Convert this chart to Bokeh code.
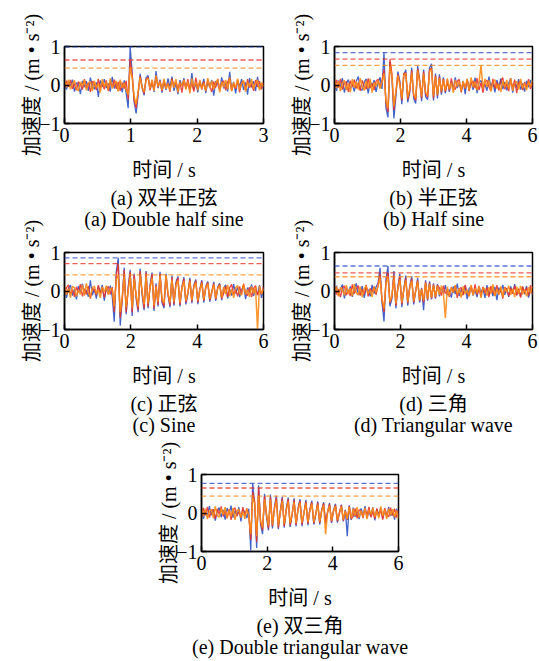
import numpy as np
from bokeh.plotting import figure
from bokeh.layouts import column, row
from bokeh.models import Range1d, FixedTicker, Span, Title, Spacer
from bokeh.embed import file_html
from bokeh.resources import INLINE

SERIF = "'Liberation Serif', 'Noto Sans CJK SC'"
BLUE = "#2f52c6"
RED = "#e8312b"
ORANGE = "#ff8b14"

# Record lengths (s) and x tick positions of the five excitation cases
durations = [3, 6, 6, 6, 6]
x_ticks = [[0, 1, 2, 3], [0, 2, 4, 6], [0, 2, 4, 6], [0, 2, 4, 6], [0, 2, 4, 6]]
y_ticks = [-1, 0, 1]

caption_cn = ["(a) 双半正弦", "(b) 半正弦", "(c) 正弦", "(d) 三角", "(e) 双三角"]
caption_en = ["(a) Double half sine", "(b) Half sine", "(c) Sine",
              "(d) Triangular wave", "(e) Double triangular wave"]

# Acceleration samples, in units of 0.01 m/s^2, evenly spaced over each record
a_blue = [5, -12, 9, -4, 14, -17, 6, 3, -24, 11,
          -6, 10, -15, 19, -2, -11, 7, -31, 12, -5,
          15, -8, 4, -17, 21, -9, 6, -13, 10, -19,
          12, -22, -60, 99, 32, -44, -74, -26, 29, -4,
          -27, 19, 25, -11, 12, -18, 36, -8, 14, -20,
          9, -13, 17, -6, 22, -15, 5, -24, 13, -3,
          18, -10, 7, -16, 31, -12, 4, -19, 11, -7,
          16, -21, 8, -5, 13, -28, 10, 2, -14, 20,
          -9, 6, -17, 34, -11, 8, -22, 12, -4, 15,
          -13, 7, -25, 18, -6, 10, -16, 21, -8, 4, -10]
a_red = [-8, 11, -5, 13, -10, 4, -14, 9, 2, -12,
         15, -7, 6, -18, 10, 3, -13, 16, -9, 5,
         -11, 12, -16, 7, -4, 14, -10, 8, -15, 6,
         -9, 11, -38, 65, 25, -40, -60, -20, 24, -8,
         -22, 15, 20, -14, 9, -12, 22, -6, 11, -16,
         13, -9, 6, -18, 17, -4, 10, -13, 8, -20,
         12, -6, 15, -11, 4, -17, 19, -8, 7, -12,
         10, -15, 14, -3, -18, 9, -7, 16, -12, 5,
         11, -14, 8, 18, -16, 3, -10, 14, -19, 6,
         9, -12, 15, -7, 4, -15, 13, -5, 10, -11, 7]
a_orange = [10, -6, 14, -11, 3, 12, -9, -15, 8, -3,
            13, -14, 5, 9, -16, 11, -7, 4, -20, 15,
            -5, 8, -12, 17, -9, 2, 11, -17, 14, -8,
            6, -14, -25, 44, 20, -30, -50, -18, 20, -6,
            -18, 12, 18, -9, 14, -15, 25, -4, 8, -13,
            16, -10, 4, -14, 12, -7, 15, -19, 6, -2,
            14, -12, 9, -22, 17, -5, 8, -14, 13, -9,
            5, -16, 18, -8, 11, -12, 6, 14, -19, 9,
            -6, 13, -11, 20, -15, 7, -8, 16, -12, 3,
            12, -17, 8, -5, 15, -10, 4, 13, -14, 6, -4]

b_blue = [8, -15, 12, -6, 18, -20, 5, 14, -11, 3,
          -17, 10, 22, -9, -14, 7, 16, -22, 9, -4,
          13, -18, 6, 20, -10, 84, -60, -84, 60, 20,
          -87, -30, 35, 10, -50, 25, 40, -45, -20, 45,
          -35, -48, 50, 15, -42, 40, -30, -38, 45, 55,
          -40, 30, -35, 28, -25, 20, -22, 14, -18, 9,
          -12, 20, -8, 5, -16, 11, -24, 16, -7, 10,
          -13, 19, -21, 6, 12, -9, 3, -15, 22, -6,
          9, -19, 13, -4, 17, -11, 8, -14, 5, 18,
          -20, 10, -7, 15, -12, 4, -17, 11, -6, 13, -9]
b_red = [-10, 13, -7, 16, -12, 5, 9, -18, 11, -4,
         14, -9, 6, -15, 12, -3, -11, 17, -8, 4,
         -13, 10, 15, -6, 12, 40, -45, -70, 67, 30,
         -65, -20, 28, 5, -40, 30, 32, -38, -15, 38,
         -28, -40, 42, 10, -35, 35, -22, -32, 40, 45,
         -35, 25, -28, 22, -20, 16, -18, 10, -14, 17,
         -6, -12, 9, 15, -19, 7, -10, 13, -16, 4,
         11, -8, 18, -13, 6, -20, 9, 12, -5, -15,
         16, -9, 7, -14, 10, 19, -11, 3, -16, 12,
         -8, 14, -21, 6, 10, -13, 8, -7, 15, -10, 4]
b_orange = [14, -8, 10, -16, 6, 12, -13, 4, -19, 15,
            -7, 9, -12, 18, -5, -14, 11, -9, 16, -20,
            7, -3, 12, -10, 8, 30, -40, -60, 48, 25,
            -55, -15, 25, 0, -35, 25, 30, -32, -10, 32,
            -25, -35, 38, 8, -30, 30, -18, -28, 35, 42,
            -30, 22, -25, 18, -16, 14, -15, 17, -11, 6,
            -20, 13, -4, 9, -15, 10, -8, 15, -12, 20,
            -6, 9, -14, 8, 51, -10, 16, -5, 12, -17,
            7, 14, -9, 3, -18, 11, -6, 13, -10, 18,
            -15, 5, 9, -12, 16, -8, 4, -14, 10, -5, 12]

c_blue = [10, -18, 7, 15, -12, 4, -22, 13, -6, 19,
          -9, 3, -15, 28, -11, 6, -20, 12, -4, 16,
          -25, 9, -7, 14, -15, -80, 50, 86, -90, -20,
          60, -60, 10, 55, -65, 45, -20, -55, 58, -10,
          -50, 52, -45, 15, 48, -52, 20, -40, 50, -30,
          -45, 45, -10, -42, 40, -38, 22, 38, -40, 10,
          36, -35, -8, 34, -32, 15, 30, -34, 5, 28,
          -30, 12, 25, -28, -5, 24, -26, 10, 20, -24,
          8, 16, -19, 5, -12, 18, -7, 11, -16, 3,
          14, -21, 9, -5, 17, -13, 6, -10, 15, -18, 7]
c_red = [-12, 9, 16, -8, 4, -15, 11, -3, 18, -14,
         6, -9, 13, -20, 7, 2, -11, 15, -6, 10,
         -17, 4, 12, -9, 10, -55, 40, 71, -70, -25,
         55, -55, 5, 50, -55, 42, -15, -50, 52, -5,
         -45, 48, -40, 10, 44, -46, 15, -36, 45, -25,
         -40, 40, -8, -38, 36, -34, 18, 34, -36, 8,
         32, -30, -5, 30, -28, 12, 27, -30, 3, 25,
         -26, 10, 22, -24, -3, 20, -22, 8, 18, -20,
         -6, 13, -15, 9, 17, -10, 4, -14, 12, -8,
         19, -5, -12, 10, -16, 7, 14, -11, 3, -9, 12]
c_orange = [15, -10, 6, -17, 12, 8, -14, 3, -9, 16,
            -12, 20, -5, -16, 9, 13, -7, 4, -18, 11,
            -3, 14, -10, 7, 5, -40, 30, 42, -55, -15,
            38, -42, 0, 38, -45, 32, -10, -40, 40, 0,
            -35, 38, -32, 8, 35, -38, 12, -28, 40, -20,
            -32, 42, -5, -30, 30, -28, 14, 28, -30, 6,
            26, -25, -3, 25, -24, 10, 22, -25, 2, 20,
            -22, 8, 19, -20, -2, 17, -19, 6, 15, -17,
            11, -8, 16, -13, 5, -18, 9, 14, -6, -11,
            17, -9, 4, -15, 12, -7, 10, -100, 13, -8, 6]

d_blue = [-8, 14, -12, 6, 17, -19, 9, -4, 12, -15,
          5, 20, -10, -6, 13, -18, 8, 3, -14, 16,
          -7, 11, 20, 60, -30, -79, 30, 65, -40, -20,
          52, -45, 10, 45, -42, 5, 40, -38, 12, 38,
          -35, 0, 34, -30, 8, -50, 28, -25, 25, -22,
          20, -20, 18, -14, 9, -6, 15, -11, 4, -17,
          12, -8, 19, -13, 5, -9, 14, -21, 7, 10,
          -12, 3, -16, 13, -5, 8, -18, 15, -9, 6,
          -13, 11, -24, 9, -4, 16, -10, 7, -15, 12,
          -6, 18, -11, 4, -14, 10, -8, 13, -17, 6, -9]
d_red = [11, -9, 5, -16, 8, 13, -11, 2, -13, 17,
         -7, 6, 14, -12, 4, -9, 16, -14, 7, -3,
         12, -10, 15, 45, -25, -55, 25, 47, -32, -15,
         42, -38, 8, 38, -35, 4, 34, -32, 10, 32,
         -30, 0, 28, -26, 6, -30, 24, -22, 21, -19,
         17, -17, 15, 8, -12, 14, -7, 3, -15, 10,
         -5, 13, -18, 6, 9, -11, 16, -4, -13, 12,
         -8, 17, -10, 5, -14, 11, -6, 9, -16, 13,
         -3, -12, 15, -9, 7, -20, 10, 4, -13, 8,
         -7, 14, -11, 6, -17, 12, -5, 9, -12, 15, -8]
d_orange = [-6, 12, -14, 9, 4, -11, 15, -8, 7, -13,
            18, -5, -10, 11, -16, 6, 13, -7, 3, -15,
            10, -4, 12, 35, -20, -45, 20, 37, -28, -12,
            33, -32, 6, 30, -30, 3, 28, -28, 8, 27,
            -26, 0, 25, -23, 5, -25, 21, -20, 18, -17,
            15, -15, 13, -10, 14, -6, -70, 11, -13, 8,
            -4, 15, -9, 6, -17, 12, -8, 3, -14, 16,
            -11, 7, -5, 13, -18, 9, 4, -12, 10, -7,
            17, -13, 5, -9, 12, -15, 8, -3, 14, -10,
            6, -16, 11, -7, 13, -9, 4, -14, 10, -6, 12]

e_blue = [12, -15, 7, -9, 18, -6, 10, -20, 4, 14,
          -11, 8, -17, 13, -3, 19, -12, 6, -8, 15,
          -22, 9, 2, -13, 11, -97, 77, 20, -91, 72,
          -30, -55, 50, -10, -45, 48, -40, 15, 45, -42,
          5, 42, -38, 10, 40, -36, -5, 38, -35, 12,
          36, -34, 0, 34, -32, 10, 32, -30, -4, 30,
          -30, 8, 28, -28, 2, 26, -26, 6, 24, -25,
          0, 22, -22, 8, -60, 20, -18, 14, -10, 6,
          -16, 12, -7, 18, -13, 4, -9, 15, -19, 10,
          -5, 13, -14, 7, -11, 16, -8, 3, -17, 11, -6]
e_red = [-10, 13, -6, 16, -12, 5, 9, -15, 11, -4,
         17, -9, 6, -13, 10, -18, 7, 14, -8, 3,
         -11, 15, -7, 12, -5, -70, 55, 30, -75, 65,
         -25, -45, 44, -5, -40, 42, -35, 12, 40, -38,
         3, 38, -34, 8, 36, -32, -3, 34, -31, 10,
         32, -30, 0, 30, -28, 8, 28, -27, -3, 27,
         -26, 6, 25, -25, 2, 23, -23, 5, 21, -22,
         0, 20, -20, 6, -18, 18, -16, -9, 12, -14,
         8, 5, -13, 10, -6, 16, -11, 3, -15, 12,
         -8, 9, -17, 13, -4, -10, 14, -7, 11, -12, 6]
e_orange = [14, -8, 11, -16, 5, 9, -13, 17, -6, -11,
            12, -4, 15, -14, 8, -9, 13, -18, 6, 10,
            -12, 4, -15, 11, -7, -55, 40, 25, -60, 44,
            -20, -38, 36, -2, -33, 35, -30, 10, 33, -32,
            2, 31, -28, 6, 30, -27, -2, 28, -26, 8,
            27, -25, 0, 25, -24, 6, 24, -23, -2, 22,
            -22, 5, 21, -55, 2, 19, -20, 4, 18, -18,
            0, 17, -17, 5, -15, 15, -14, 11, -7, 15,
            -12, 6, -9, 13, -16, 8, -4, 14, -10, 5,
            -13, 17, -8, 9, -15, 12, -6, 10, -11, 7, -14]

series = [(a_blue, a_red, a_orange), (b_blue, b_red, b_orange),
          (c_blue, c_red, c_orange), (d_blue, d_red, d_orange),
          (e_blue, e_red, e_orange)]


def make_panel(k, width, height, top, left, right):
    frame_h = 77
    p = figure(width=width, height=height,
               x_range=Range1d(0, durations[k]), y_range=Range1d(-1, 1),
               output_backend="svg", toolbar_location=None,
               min_border_left=left, min_border_right=right,
               min_border_top=top, min_border_bottom=height - top - frame_h)
    p.grid.visible = False
    p.background_fill_color = "white"
    p.border_fill_color = None
    p.outline_line_color = "black"
    p.outline_line_width = 1.5

    p.xaxis.ticker = FixedTicker(ticks=x_ticks[k])
    p.yaxis.ticker = FixedTicker(ticks=y_ticks)
    p.yaxis.major_label_overrides = {-1: "\u22121", 0: "0", 1: "1"}
    for ax in (p.xaxis[0], p.yaxis[0]):
        ax.major_label_text_font = SERIF
        ax.major_label_text_font_size = "20px"
        ax.major_label_text_color = "black"
        ax.major_tick_in = 5
        ax.major_tick_out = 0
        ax.major_tick_line_width = 1.5
        ax.minor_tick_line_color = None
        ax.axis_line_width = 1.5
        ax.axis_label_text_font = SERIF
        ax.axis_label_text_font_size = "20px"
        ax.axis_label_text_font_style = "normal"
        ax.axis_label_text_color = "black"
        ax.major_label_standoff = 4
    p.xaxis.axis_label_standoff = 14
    p.yaxis.axis_label_standoff = -7
    p.xaxis.axis_label = "时间 / s"
    p.yaxis.axis_label = "加速度 / (m • s\u207b\u00b2)"

    colors = (BLUE, RED, ORANGE)
    widths = (1.3, 1.3, 1.5)
    for vals, col, lw in zip(series[k], colors, widths):
        acc = np.array(vals, dtype=float) / 100.0
        t = np.linspace(0, durations[k], len(acc))
        p.line(t, acc, line_color=col, line_width=lw, line_alpha=0.9)
    for vals, col in zip(series[k], colors):
        peak = float(np.max(vals)) / 100.0
        p.add_layout(Span(location=peak, dimension="width", line_color=col,
                          line_dash="5 3", line_width=1.3, line_alpha=0.8))

    for text, gap in ((caption_cn[k], 2), (caption_en[k], -7)):
        p.add_layout(Title(text=text, align="center", text_font=SERIF,
                           text_font_size="20px", text_font_style="normal",
                           text_color="black", standoff=gap), "below")
    return p


pa = make_panel(0, 270, 240, 46, 64, 7)
pb = make_panel(1, 269, 240, 46, 64, 7)
pc = make_panel(2, 270, 240, 39, 64, 7)
pd = make_panel(3, 269, 240, 39, 64, 7)
pe = make_panel(4, 290, 226, 39, 64, 29)

layout = column(row(pa, pb),
                row(pc, pd, margin=(-27, 0, 0, 0)),
                row(Spacer(width=137, height=226), pe, margin=(-18, 0, 0, 0)))

open("out.html", "w").write(file_html(layout, INLINE))
